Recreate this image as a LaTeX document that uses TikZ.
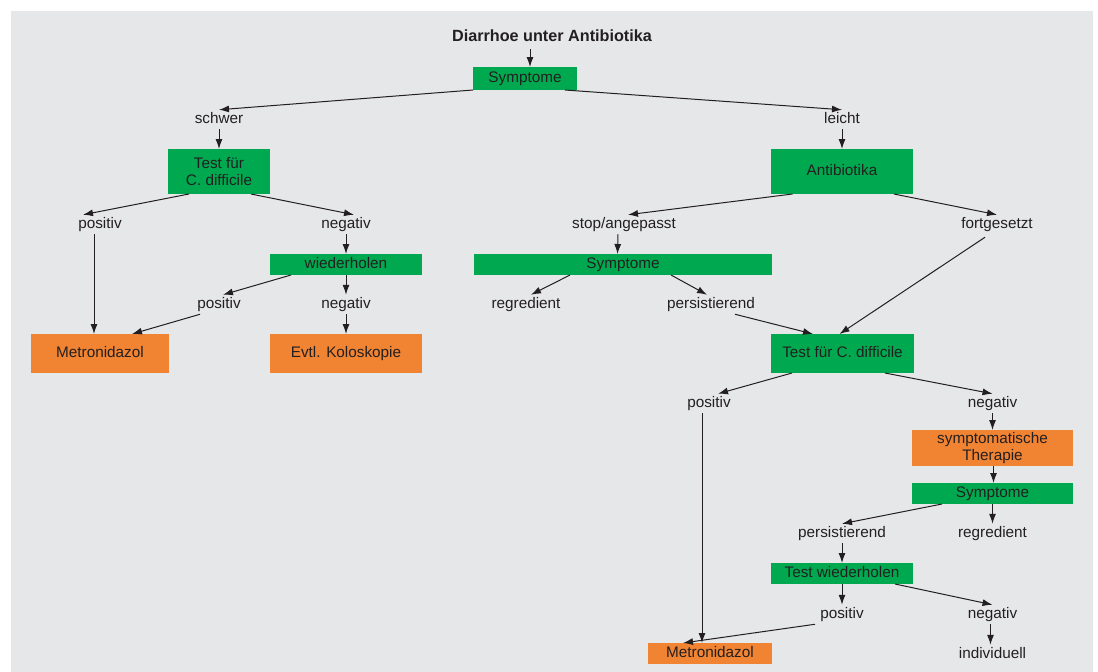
\documentclass[tikz,border=0pt]{standalone}
\usepackage{fontspec}
\setmainfont{Liberation Sans}
\usetikzlibrary{arrows.meta}
\definecolor{bggray}{HTML}{E6E7E9}
\definecolor{boxgreen}{HTML}{00A94F}
\definecolor{boxorange}{HTML}{F18433}
\definecolor{ink}{HTML}{231F20}
\newcommand{\fs}{\fontsize{15.3}{16.5}\selectfont}

\begin{document}
\begin{tikzpicture}[x=1pt,y=-1pt,
  lbl/.style={font=\fs,text=ink,text height=10.5pt,text depth=3pt,inner sep=0pt,outer sep=3pt,yshift=-1.5pt},
  box/.style={font=\fs,text=ink,inner sep=0pt,outer sep=0pt,align=center},
  grn/.style={box,fill=boxgreen},
  org/.style={box,fill=boxorange},
  one/.style={text height=10.5pt,text depth=3pt},
  arr/.style={-{Latex[length=10pt,width=7pt]},line width=1pt,draw=ink}]
\useasboundingbox (0,0) rectangle (1098,672);
\fill[bggray] (11,11) rectangle (1093,672);
% top
\node[lbl,font=\fontsize{16.2}{18}\selectfont\bfseries] (title) at (552,36) {Diarrhoe unter Antibiotika};
\node[grn,one,minimum width=104pt,minimum height=23pt] (sym1) at (525,78.5) {Symptome};
\node[lbl] (schwer) at (219,118) {schwer};
\node[lbl] (leicht) at (842,118) {leicht};
\draw[arr] ([xshift=-22pt,yshift=-2pt]title.south) -- ([xshift=5pt]sym1.north);
\draw[arr] (sym1.south west) -- (schwer.north);
\draw[arr] ([xshift=-12pt]sym1.south east) -- (leicht.north);
% left branch
\node[grn,minimum width=102pt,minimum height=45pt] (testL) at (219,171.5) {Test für\\C. difficile};
\node[lbl] (posL) at (100,223) {positiv};
\node[lbl] (negL) at (346,223) {negativ};
\node[grn,one,minimum width=152pt,minimum height=21pt] (wdh) at (346,264.5) {wiederholen};
\node[lbl] (pos2) at (219,303) {positiv};
\node[lbl] (neg2) at (346,303) {negativ};
\node[org,one,minimum width=138pt,minimum height=39pt] (metL) at (100,353.5) {Metronidazol};
\node[org,one,minimum width=152pt,minimum height=39pt] (kolo) at (346,353.5) {Evtl. Koloskopie};
\draw[arr] (schwer.south) -- (testL.north);
\draw[arr] ([xshift=21pt]testL.south west) -- ([xshift=-17pt]posL.north);
\draw[arr] ([xshift=-19pt]testL.south east) -- ([xshift=8pt]negL.north);
\draw[arr] (negL.south) -- (wdh.north);
\draw[arr] ([xshift=-6pt]posL.south) -- ([xshift=-6pt]metL.north);
\draw[arr] ([xshift=21pt]wdh.south west) -- ([xshift=4pt]pos2.north);
\draw[arr] ([xshift=-19pt]pos2.south) -- ([xshift=32pt]metL.north);
\draw[arr] (wdh.south) -- (neg2.north);
\draw[arr] (neg2.south) -- (kolo.north);
% right branch
\node[grn,one,minimum width=142pt,minimum height=45pt] (anti) at (842,171.5) {Antibiotika};
\node[lbl] (stop) at (624,223) {stop/angepasst};
\node[lbl] (fort) at (997,223) {fortgesetzt};
\node[grn,one,minimum width=298pt,minimum height=21pt] (sym2) at (623,264.5) {Symptome};
\node[lbl] (regr1) at (526,303) {regredient};
\node[lbl] (pers1) at (711,303) {persistierend};
\node[grn,one,minimum width=143pt,minimum height=39pt] (testR) at (842.5,353.5) {Test für C. difficile};
\draw[arr] (leicht.south) -- (anti.north);
\draw[arr] ([xshift=21.5pt]anti.south west) -- ([xshift=4pt]stop.north);
\draw[arr] ([xshift=-19pt]anti.south east) -- (fort.north);
\draw[arr] ([xshift=-6pt]stop.south) -- ([xshift=-5.5pt]sym2.north);
\draw[arr] ([xshift=96pt]sym2.south west) -- ([xshift=5pt]regr1.north);
\draw[arr] ([xshift=48pt]sym2.south) -- ([xshift=-4pt]pers1.north);
\draw[arr] ([xshift=24pt]pers1.south) -- ([xshift=42pt]testR.north west);
\draw[arr] ([xshift=-12pt,yshift=-3pt]fort.south) -- ([xshift=-3pt]testR.north);
% after second test
\node[lbl] (pos3) at (709,402) {positiv};
\node[lbl] (neg3) at (992.5,402) {negativ};
\node[org,minimum width=161pt,minimum height=36pt] (symth) at (992.5,448) {symptomatische\\Therapie};
\node[grn,one,minimum width=161pt,minimum height=21pt] (sym3) at (992.5,493.5) {Symptome};
\node[lbl] (pers2) at (842,532) {persistierend};
\node[lbl] (regr2) at (992.5,532) {regredient};
\node[grn,one,minimum width=142pt,minimum height=21pt] (testw) at (842,573.5) {Test wiederholen};
\node[lbl] (pos4) at (842,613) {positiv};
\node[lbl] (neg4) at (992.5,613) {negativ};
\node[lbl] (indiv) at (992.5,653) {individuell};
\node[org,one,minimum width=124pt,minimum height=21pt] (metR) at (710,653.5) {Metronidazol};
\draw[arr] ([xshift=21pt]testR.south west) -- ([xshift=9pt]pos3.north);
\draw[arr] ([xshift=-29pt]testR.south east) -- (neg3.north);
\draw[arr] ([xshift=-7pt]pos3.south) -- ([xshift=-8pt]metR.north);
\draw[arr] (neg3.south) -- (symth.north);
\draw[arr] ([xshift=1pt]symth.south) -- ([xshift=1pt]sym3.north);
\draw[arr] ([xshift=30pt]sym3.south west) -- (pers2.north);
\draw[arr] (sym3.south) -- (regr2.north);
\draw[arr] (pers2.south) -- (testw.north);
\draw[arr] (testw.south) -- (pos4.north);
\draw[arr] ([xshift=-18pt]testw.south east) -- (neg4.north);
\draw[arr] ([xshift=-27pt]pos4.south) -- ([xshift=35pt]metR.north west);
\draw[arr] ([xshift=-2pt]neg4.south) -- ([xshift=-2pt]indiv.north);
\end{tikzpicture}
\end{document}
